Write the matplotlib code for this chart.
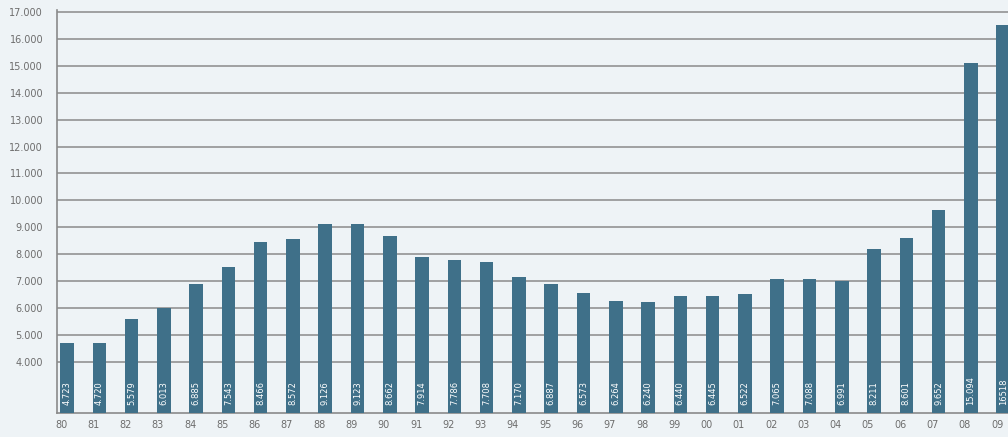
import numpy as np
import matplotlib
matplotlib.use("Agg")
import matplotlib.pyplot as plt
import matplotlib.transforms as mtransforms

# years and values (thousands)
years = ["80", "81", "82", "83", "84", "85", "86", "87", "88", "89",
         "90", "91", "92", "93", "94", "95", "96", "97", "98", "99",
         "00", "01", "02", "03", "04", "05", "06", "07", "08", "09"]
values = [4.723, 4.720, 5.579, 6.013, 6.885, 7.543, 8.466, 8.572, 9.126, 9.123,
          8.662, 7.914, 7.786, 7.708, 7.170, 6.887, 6.573, 6.264, 6.240, 6.440,
          6.445, 6.522, 7.065, 7.088, 6.991, 8.211, 8.601, 9.652, 15.094, 16.518]
value_labels = ["4.723", "4.720", "5.579", "6.013", "6.885", "7.543", "8.466", "8.572",
                "9.126", "9.123", "8.662", "7.914", "7.786", "7.708", "7.170", "6.887",
                "6.573", "6.264", "6.240", "6.440", "6.445", "6.522", "7.065", "7.088",
                "6.991", "8.211", "8.601", "9.652", "15.094", "16518"]
ytick_vals = list(range(4, 18))
ytick_labels = ["%d.000" % v for v in ytick_vals]

bg = "#eef3f6"
bar_color = "#3f7089"
base = 2.106

fig = plt.figure(figsize=(10.08, 4.37), dpi=100, facecolor=bg)
ax = fig.add_axes([57 / 1008, (437 - 413) / 437, 1 - 57 / 1008, (413 - 10) / 437])
ax.set_facecolor(bg)

x = np.arange(len(years))
heights = np.array(values) - base
ax.bar(x, heights, bottom=base, width=0.42, color=bar_color, zorder=3)

for xi, lab in zip(x, value_labels):
    ax.text(xi, base + 0.3, lab, rotation=90, ha="center", va="bottom",
            color="white", fontsize=6, zorder=4)

ax.set_xlim(-0.31, 29.15)
ax.set_ylim(base, 17.07)
ax.set_yticks(ytick_vals)
ax.set_yticklabels(ytick_labels)
ax.set_xticks(x)
ax.set_xticklabels(years)
ax.tick_params(axis="both", length=0, labelsize=7, colors="#6d6d6d")
ax.tick_params(axis="y", pad=10)
ax.tick_params(axis="x", pad=5)

# year labels sit a little left of the bars in the original
shift = mtransforms.ScaledTranslation(-6 / 100, 0, fig.dpi_scale_trans)
for lbl in ax.get_xticklabels():
    lbl.set_transform(lbl.get_transform() + shift)

ax.grid(axis="y", color="#8a8a8a", linewidth=1.1, zorder=0)
for s in ["top", "right"]:
    ax.spines[s].set_visible(False)
for s in ["left", "bottom"]:
    ax.spines[s].set_color("#8a8a8a")
    ax.spines[s].set_linewidth(1.2)

fig.savefig("out.png", dpi=100, facecolor=bg)
